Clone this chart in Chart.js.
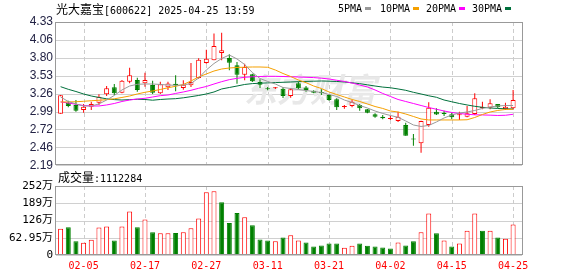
<!DOCTYPE html>
<html><head><meta charset="utf-8">
<script src="https://cdn.jsdelivr.net/npm/chart.js@4"></script>
<style>
html,body{margin:0;padding:0;background:#fff;}
#wrap{position:relative;width:578px;height:276px;overflow:hidden;background:#fff;}
canvas{position:absolute;left:0;}
.t{position:absolute;white-space:nowrap;color:#000;}
.cj{font:12px "Noto Sans CJK SC";}
.mo{font:10px "DejaVu Sans Mono";}
.sq{position:absolute;width:6px;height:3px;}
</style></head><body>
<div id="wrap">
<canvas id="pc" style="top:0" width="578" height="172"></canvas>
<canvas id="vc" style="top:172px" width="578" height="104"></canvas>
<div class="t" id="title" style="left:56px;top:0px;line-height:16px;"></div>
<div class="t mo" style="left:338px;top:2px;line-height:13px;">5PMA</div>
<div class="sq" style="left:365px;top:7px;background:#999999"></div>
<div class="t mo" style="left:380px;top:2px;line-height:13px;">10PMA</div>
<div class="sq" style="left:413px;top:7px;background:#f5a000"></div>
<div class="t mo" style="left:426px;top:2px;line-height:13px;">20PMA</div>
<div class="sq" style="left:459px;top:7px;background:#ff00ff"></div>
<div class="t mo" style="left:472px;top:2px;line-height:13px;">30PMA</div>
<div class="sq" style="left:505px;top:7px;background:#00703c"></div>
<div class="t" id="voltitle" style="left:58px;top:168px;line-height:16px;"></div>
</div>
<script>
const stockName = '光大嘉宝', stockCode = '600622', stamp = '2025-04-25 13:59';
const dates = ['01-23','01-24','01-27','02-05','02-06','02-07','02-10','02-11','02-12','02-13','02-14','02-17','02-18','02-19','02-20','02-21','02-24','02-25','02-26','02-27','02-28','03-03','03-04','03-05','03-06','03-07','03-10','03-11','03-12','03-13','03-14','03-17','03-18','03-19','03-20','03-21','03-24','03-25','03-26','03-27','03-28','03-31','04-01','04-02','04-03','04-07','04-08','04-09','04-10','04-11','04-14','04-15','04-16','04-17','04-18','04-21','04-22','04-23','04-24','04-25'];
const tickDates = ['02-05','02-17','02-27','03-11','03-21','04-02','04-15','04-25'];
const open  = [2.961,3.125,3.091,3.016,3.065,3.125,3.250,3.355,3.274,3.439,3.464,3.415,3.389,3.265,3.355,3.409,3.345,3.385,3.494,3.718,3.758,3.867,3.792,3.683,3.543,3.549,3.434,3.335,3.340,3.335,3.225,3.415,3.350,3.305,3.280,3.240,3.176,3.060,3.076,3.091,3.026,2.951,2.916,2.880,2.852,2.792,2.580,2.519,2.792,2.991,2.976,2.951,2.937,2.916,2.956,3.045,3.050,3.106,3.026,3.041];
const high  = [3.240,3.155,3.165,3.106,3.140,3.250,3.374,3.404,3.464,3.648,3.498,3.573,3.454,3.439,3.439,3.534,3.459,3.718,3.790,3.916,4.160,4.170,3.848,3.733,3.707,3.558,3.474,3.360,3.360,3.360,3.340,3.439,3.374,3.310,3.325,3.255,3.191,3.091,3.165,3.106,3.030,2.966,2.941,2.926,2.991,2.826,2.658,2.855,3.131,3.041,3.006,2.976,2.991,3.076,3.265,3.140,3.176,3.106,3.125,3.315];
const low   = [2.960,3.056,2.991,2.976,3.016,3.091,3.225,3.240,3.265,3.415,3.289,3.364,3.255,3.255,3.315,3.295,3.320,3.360,3.484,3.707,3.758,3.758,3.609,3.409,3.459,3.434,3.345,3.310,3.330,3.195,3.200,3.325,3.290,3.265,3.240,3.155,3.016,3.036,3.056,3.006,2.966,2.901,2.877,2.867,2.837,2.630,2.483,2.379,2.767,2.941,2.926,2.877,2.867,2.907,2.941,3.026,3.026,3.041,3.016,3.026];
const close = [3.236,3.076,3.006,3.065,3.106,3.215,3.340,3.265,3.454,3.534,3.315,3.464,3.274,3.400,3.410,3.385,3.394,3.434,3.765,3.780,3.972,3.907,3.722,3.543,3.658,3.445,3.394,3.325,3.345,3.225,3.325,3.340,3.315,3.275,3.270,3.166,3.056,3.066,3.140,3.041,2.976,2.916,2.892,2.885,2.916,2.632,2.575,2.852,3.050,2.950,2.956,2.907,2.942,2.966,3.191,3.050,3.116,3.056,3.066,3.165];
const volume = [960000,1010000,500000,450000,560000,1000000,1040000,530000,1040000,1590000,1010000,1300000,830000,790000,790000,800000,830000,975000,1330000,2290000,2325000,1930000,1170000,1530000,1380000,1085000,570000,530000,500000,640000,720000,530000,460000,310000,350000,420000,420000,265000,340000,420000,340000,310000,276000,240000,460000,350000,500000,830000,1515000,790000,530000,310000,420000,890000,1515000,890000,890000,640000,595000,1112284];
const ma5  = [3.210,3.143,3.106,3.076,3.076,3.106,3.165,3.233,3.315,3.374,3.400,3.404,3.404,3.397,3.389,3.385,3.389,3.412,3.494,3.613,3.710,3.785,3.837,3.778,3.695,3.576,3.486,3.442,3.404,3.352,3.337,3.322,3.307,3.292,3.277,3.248,3.218,3.165,3.128,3.083,3.046,3.001,2.964,2.934,2.907,2.852,2.792,2.770,2.785,2.837,2.897,2.941,2.971,2.986,3.009,3.039,3.061,3.076,3.083,3.083];
const ma10 = [3.136,3.136,3.139,3.146,3.154,3.161,3.170,3.183,3.203,3.225,3.255,3.280,3.300,3.322,3.348,3.370,3.397,3.449,3.509,3.554,3.598,3.628,3.643,3.651,3.655,3.658,3.658,3.654,3.613,3.561,3.516,3.464,3.424,3.374,3.337,3.285,3.248,3.210,3.173,3.143,3.106,3.068,3.039,3.001,2.986,2.956,2.919,2.882,2.867,2.867,2.867,2.867,2.867,2.870,2.904,2.949,2.986,3.009,3.024,3.027];
const ma20 = [3.136,3.121,3.101,3.083,3.076,3.076,3.091,3.113,3.143,3.165,3.180,3.191,3.210,3.230,3.240,3.263,3.285,3.310,3.340,3.367,3.404,3.439,3.469,3.489,3.504,3.512,3.516,3.519,3.519,3.516,3.512,3.509,3.504,3.500,3.491,3.479,3.460,3.442,3.419,3.389,3.360,3.315,3.263,3.218,3.173,3.143,3.113,3.083,3.053,3.027,3.001,2.979,2.964,2.952,2.944,2.942,2.939,2.934,2.937,2.952];
const ma30 = [3.364,3.325,3.292,3.255,3.225,3.203,3.183,3.171,3.165,3.171,3.176,3.173,3.162,3.173,3.180,3.185,3.198,3.215,3.233,3.255,3.285,3.330,3.352,3.374,3.397,3.410,3.416,3.421,3.425,3.430,3.434,3.439,3.443,3.446,3.449,3.446,3.442,3.434,3.422,3.409,3.392,3.374,3.358,3.348,3.330,3.310,3.280,3.255,3.228,3.206,3.165,3.139,3.113,3.091,3.071,3.056,3.046,3.039,3.034,3.031];
const priceTickLabels = ['2.19','2.46','2.72','2.99','3.26','3.53','3.80','4.06','4.33'];
const volTickValues = [0,629500,1260000,1890000,2520000];
const volTickLabels = ['0','62.95万','126万','189万','252万'];

const RED = '#ff0000', GREEN = '#008000';
const n = dates.length;
const xMin = -0.6, xMax = n + 0.16;
const tickIdx = tickDates.map(d => dates.indexOf(d));
const yMin = parseFloat(priceTickLabels[0]);
const yMax = parseFloat(priceTickLabels[priceTickLabels.length - 1]);
const priceTickValues = priceTickLabels.map((_, k) => yMin + k * (yMax - yMin) / (priceTickLabels.length - 1));

document.getElementById('title').innerHTML =
  '<span class="cj">' + stockName + '</span><span class="mo">[' + stockCode + '] ' + stamp + '</span>';
document.getElementById('voltitle').innerHTML =
  '<span class="cj">成交量</span><span class="mo">:' + volume[n - 1] + '</span>';

const candleUp = close.map((c, i) => c >= open[i]);
const volUp = volume.map((v, i) => i === 0 ? close[0] >= open[0] : close[i] >= close[i - 1]);

// grid + tick labels drawn from the chart's own scales
function axesPlugin(yVals, yLabels, yFont, yColor, showX, watermark) {
  return {
    id: 'axesDraw',
    beforeDatasetsDraw(chart) {
      const a = chart.chartArea, ctx = chart.ctx;
      const xs = chart.scales.x, ys = chart.scales.y;
      ctx.save();
      ctx.lineWidth = 1;
      ctx.strokeStyle = '#d0d0d0';
      yVals.forEach(v => {
        const y = Math.round(ys.getPixelForValue(v)) + 0.5;
        ctx.beginPath(); ctx.moveTo(a.left, y); ctx.lineTo(a.right, y); ctx.stroke();
      });
      ctx.setLineDash([4, 3]);
      ctx.strokeStyle = '#cccccc';
      tickIdx.forEach(i => {
        const x = Math.round(xs.getPixelForValue(i)) + 0.5;
        ctx.beginPath(); ctx.moveTo(x, a.top); ctx.lineTo(x, a.bottom); ctx.stroke();
      });
      ctx.setLineDash([]);
      if (watermark) {
        ctx.fillStyle = '#e8e8e8';
        ctx.font = 'italic bold 33px "Noto Sans CJK SC"';
        ctx.textAlign = 'center';
        ctx.textBaseline = 'middle';
        ctx.fillText('东方财富', a.left + (a.right - a.left) * 0.545, a.top + (a.bottom - a.top) * 0.47);
      }
      ctx.restore();
    },
    afterDraw(chart) {
      const a = chart.chartArea, ctx = chart.ctx;
      const xs = chart.scales.x, ys = chart.scales.y;
      ctx.save();
      ctx.strokeStyle = '#999999';
      ctx.lineWidth = 1;
      ctx.strokeRect(Math.round(a.left) - 0.5, Math.round(a.top) + 0.5,
        Math.round(a.right) - Math.round(a.left) + 1, Math.round(a.bottom) - Math.round(a.top) - 1);
      ctx.fillStyle = yColor;
      ctx.font = yFont;
      ctx.textAlign = 'right';
      ctx.textBaseline = 'middle';
      yVals.forEach((v, k) => ctx.fillText(yLabels[k], a.left - 3, ys.getPixelForValue(v)));
      if (showX) {
        ctx.fillStyle = RED;
        ctx.font = '10px "DejaVu Sans Mono"';
        ctx.textAlign = 'center';
        tickIdx.forEach(i => ctx.fillText(dates[i], xs.getPixelForValue(i), a.bottom + 11.5));
      }
      ctx.restore();
    }
  };
}

const hiddenX = { type: 'linear', min: xMin, max: xMax, display: false, offset: false, grid: { offset: false } };

new Chart(document.getElementById('pc'), {
  type: 'bar',
  data: {
    datasets: [
      { type: 'line', data: ma5.map((v, i) => ({ x: i, y: v })), borderColor: '#999999', borderWidth: 1, pointRadius: 0, tension: 0, order: 1 },
      { type: 'line', data: ma10.map((v, i) => ({ x: i, y: v })), borderColor: '#f5a000', borderWidth: 1, pointRadius: 0, tension: 0, order: 1 },
      { type: 'line', data: ma20.map((v, i) => ({ x: i, y: v })), borderColor: '#ff00ff', borderWidth: 1, pointRadius: 0, tension: 0, order: 1 },
      { type: 'line', data: ma30.map((v, i) => ({ x: i, y: v })), borderColor: '#00703c', borderWidth: 1, pointRadius: 0, tension: 0, order: 1 },
      { type: 'bar', data: open.map((o, i) => ({ x: i, y: [o, close[i]] })),
        backgroundColor: candleUp.map(u => u ? '#ffffff' : GREEN),
        borderColor: candleUp.map(u => u ? RED : GREEN),
        borderWidth: 1, borderSkipped: false, inflateAmount: 0, barThickness: 5, minBarLength: 1, grouped: false, order: 2 },
      { type: 'bar', data: low.map((l, i) => ({ x: i, y: [l, high[i]] })),
        backgroundColor: candleUp.map(u => u ? RED : GREEN),
        borderWidth: 0, inflateAmount: 0, barThickness: 1, grouped: false, order: 3 }
    ]
  },
  options: {
    responsive: false, animation: false, events: [],
    layout: { autoPadding: false, padding: { top: 22, right: 56, bottom: 6.7, left: 56 } },
    plugins: { legend: { display: false }, tooltip: { enabled: false } },
    scales: {
      x: hiddenX,
      y: { type: 'linear', min: yMin, max: yMax, display: false, beginAtZero: false }
    }
  },
  plugins: [axesPlugin(priceTickValues, priceTickLabels, '12px "Liberation Sans"', '#222244', false, true)]
});

new Chart(document.getElementById('vc'), {
  type: 'bar',
  data: {
    datasets: [{
      data: volume.map((v, i) => ({ x: i, y: v })),
      backgroundColor: volUp.map(u => u ? '#ffffff' : GREEN),
      borderColor: volUp.map(u => u ? RED : GREEN),
      borderWidth: 1, inflateAmount: 0, barThickness: 5
    }]
  },
  options: {
    responsive: false, animation: false, events: [],
    layout: { autoPadding: false, padding: { top: 14, right: 56, bottom: 21, left: 56 } },
    plugins: { legend: { display: false }, tooltip: { enabled: false } },
    scales: {
      x: hiddenX,
      y: { type: 'linear', min: 0, max: volTickValues[volTickValues.length - 1], display: false }
    }
  },
  plugins: [axesPlugin(volTickValues, volTickLabels, "11px 'DejaVu Sans Mono','Noto Sans CJK SC'", '#000000', true, false)]
});
</script>
</body></html>
